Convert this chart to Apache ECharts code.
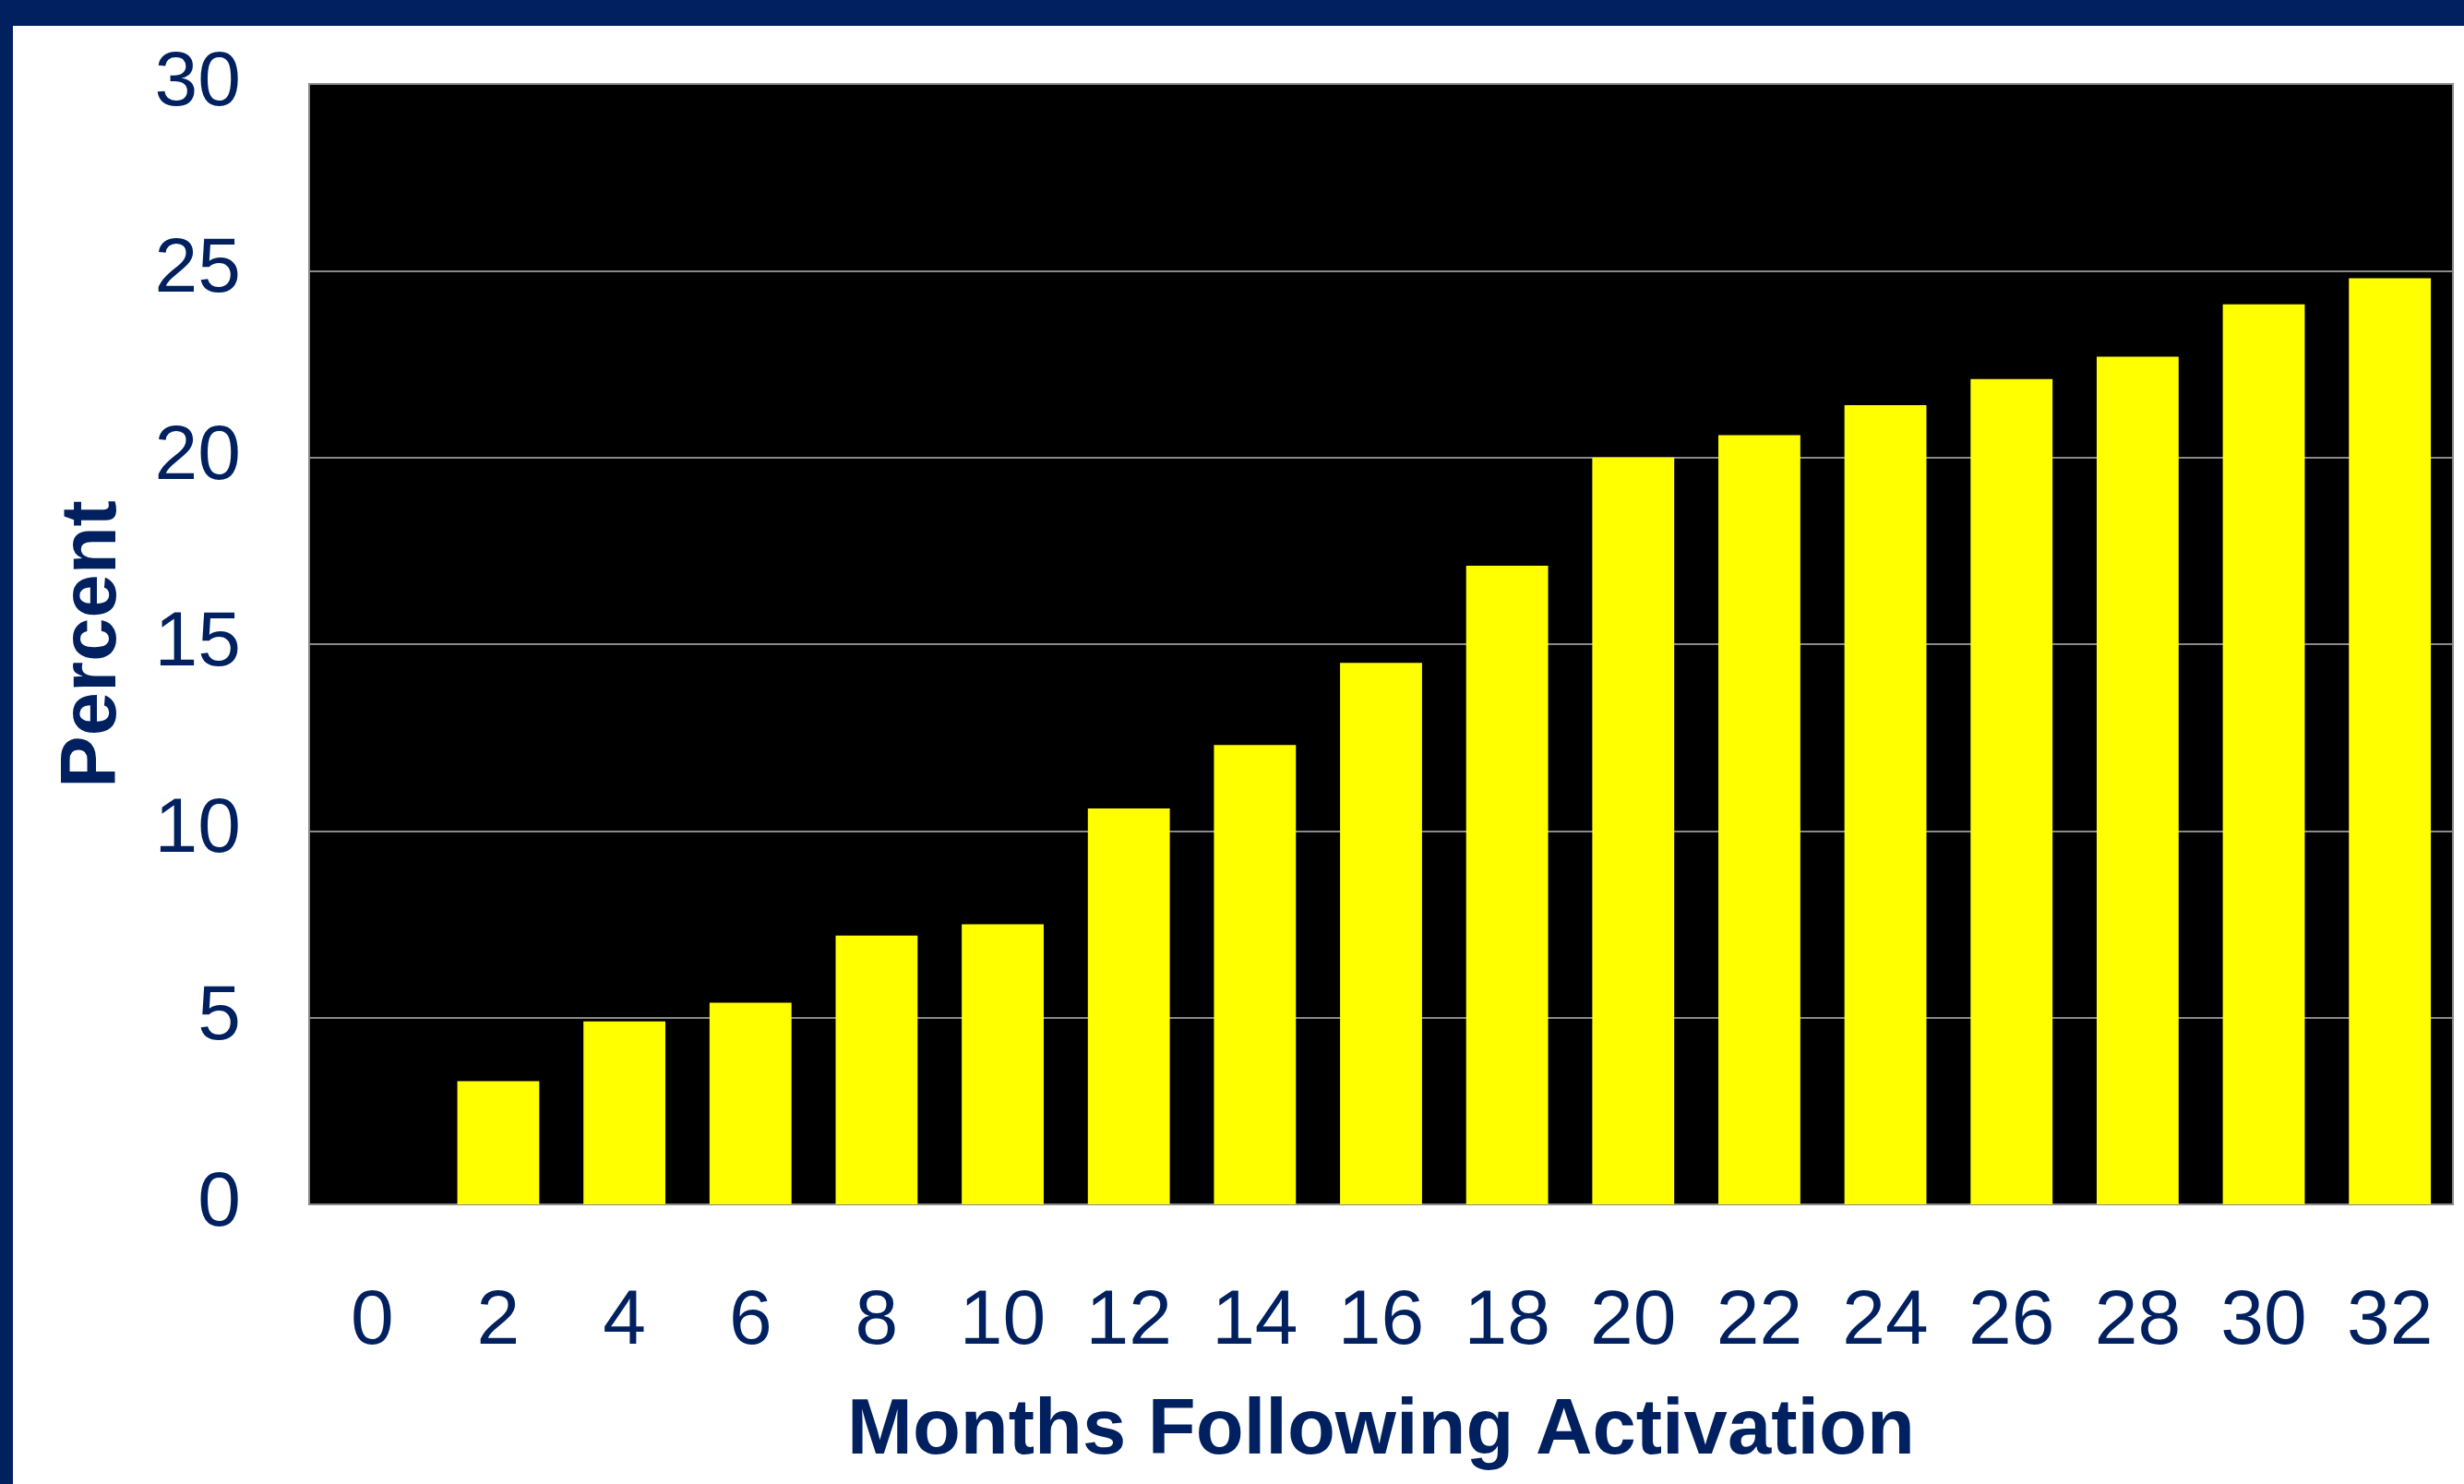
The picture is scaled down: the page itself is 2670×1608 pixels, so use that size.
<!DOCTYPE html>
<html>
<head>
<meta charset="utf-8">
<style>
  html, body { margin: 0; padding: 0; background: #ffffff; }
  #chart { width: 2670px; height: 1608px; }
</style>
<script src="https://cdn.jsdelivr.net/npm/echarts@6/dist/echarts.min.js"></script>
</head>
<body>
<div id="chart"></div>
<script>
const months = ['0', '2', '4', '6', '8', '10', '12', '14', '16', '18', '20', '22', '24', '26', '28', '30', '32'];
const percentValues = [0, 3.3, 4.9, 5.4, 7.2, 7.5, 10.6, 12.3, 14.5, 17.1, 20.0, 20.6, 21.4, 22.1, 22.7, 24.1, 24.8];
const xTitle = 'Months Following Activation';
const yTitle = 'Percent';

const navy = '#00205F';
const font = '"Liberation Sans", Arial, sans-serif';

const chart = echarts.init(document.getElementById('chart'), null, { renderer: 'canvas' });
chart.setOption({
  backgroundColor: '#ffffff',
  animation: false,
  grid: {
    left: 335, right: 12, top: 91, bottom: 303,
    show: true, backgroundColor: '#000000', borderColor: '#8a8a8a', borderWidth: 2
  },
  xAxis: {
    type: 'category',
    data: months,
    axisLine: { show: true, lineStyle: { color: '#8a8a8a', width: 2 } },
    axisTick: { show: false },
    axisLabel: { color: navy, fontSize: 84, fontFamily: font, margin: 86 },
    name: xTitle,
    nameLocation: 'middle',
    nameGap: 204,
    nameTextStyle: { color: navy, fontSize: 85, fontWeight: 'bold', fontFamily: font }
  },
  yAxis: {
    type: 'value',
    min: 0, max: 30, interval: 5,
    axisLine: { show: false },
    axisTick: { show: false },
    splitLine: { show: true, lineStyle: { color: '#8a8a8a', width: 2 } },
    axisLabel: { color: navy, fontSize: 84, fontFamily: font, margin: 74 },
    name: yTitle,
    nameLocation: 'middle',
    nameRotate: 90,
    nameGap: 191,
    nameTextStyle: { color: navy, fontSize: 85, fontWeight: 'bold', fontFamily: font }
  },
  series: [{
    type: 'bar',
    data: percentValues,
    barCategoryGap: '35%',
    itemStyle: { color: '#FFFF00' }
  }],
  graphic: [
    { type: 'rect', left: 0, top: 0, shape: { width: 2670, height: 28 }, style: { fill: navy }, z: 100 },
    { type: 'rect', left: 0, top: 0, shape: { width: 14, height: 1608 }, style: { fill: navy }, z: 100 }
  ]
});
</script>
</body>
</html>
